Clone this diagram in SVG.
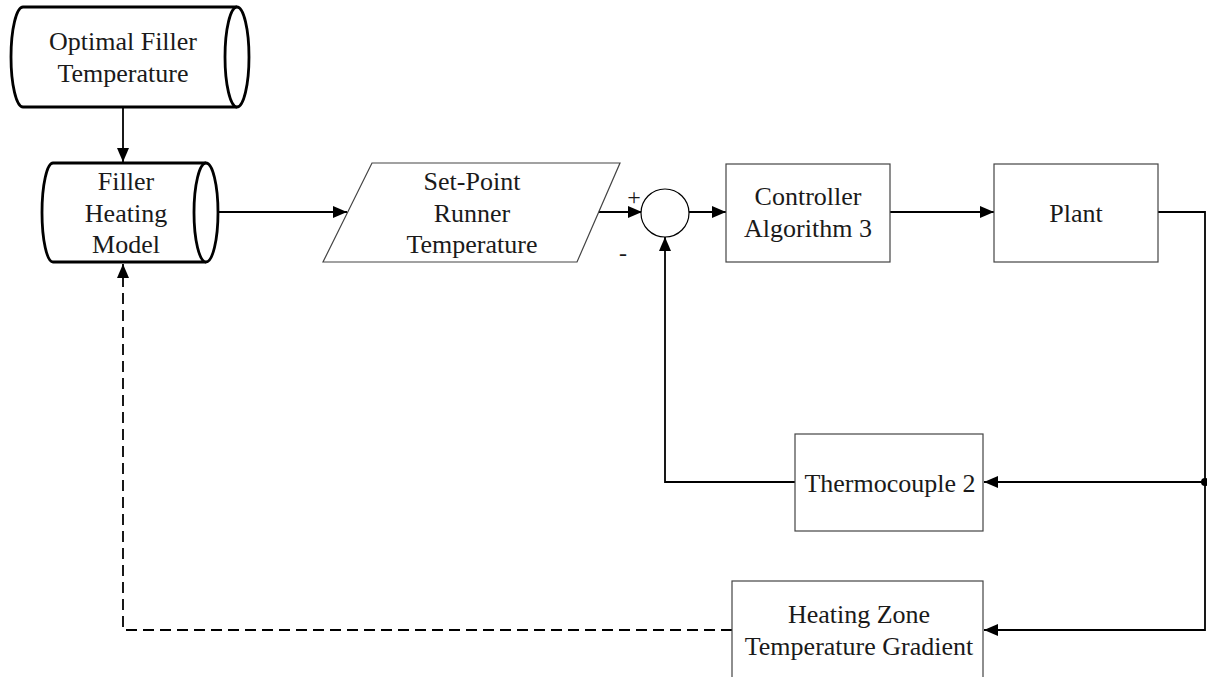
<svg xmlns="http://www.w3.org/2000/svg" width="1207" height="677" viewBox="0 0 1207 677">
<style>
text{font-family:"Liberation Serif","Times New Roman",serif;font-size:26px;fill:#1a1a1a;text-anchor:middle}
.cyl{fill:#fff;stroke:#000;stroke-width:2.8}
.box{fill:#fff;stroke:#444;stroke-width:1.2}
.sumc{fill:#fff;stroke:#000;stroke-width:1.2}
.con{fill:none;stroke:#000;stroke-width:1.8}
.dash{stroke-dasharray:11,6}
.sign{font-size:24px}
</style>
<defs>
<marker id="arr" markerUnits="userSpaceOnUse" markerWidth="15" markerHeight="12" refX="14" refY="6" orient="auto">
<path d="M0,0 L14,6 L0,12 Z" fill="#000"/>
</marker>
</defs>
<g id="connectors">
<path class="con" d="M123,107 V162" marker-end="url(#arr)"/>
<path class="con" d="M206,212 H347" marker-end="url(#arr)"/>
<path class="con" d="M598,212 H642" marker-end="url(#arr)"/>
<path class="con" d="M689,212 H726" marker-end="url(#arr)"/>
<path class="con" d="M890,212 H994" marker-end="url(#arr)"/>
<path class="con" d="M1158,212 H1205 V630 H984" marker-end="url(#arr)"/>
<path class="con" d="M1205,482 H984" marker-end="url(#arr)"/>
<circle cx="1205" cy="482" r="4" fill="#000"/>
<path class="con" d="M795,482 H665 V237" marker-end="url(#arr)"/>
<path class="con dash" d="M732,630 H123 V264" marker-end="url(#arr)"/>
</g>
<g id="optimal">
<path class="cyl" d="M23,7 H237 A12,50 0 0 1 237,107 H23 A12,50 0 0 1 23,7 Z"/>
<path class="cyl" d="M237,7 A12,50 0 0 0 237,107" fill="none"/>
<text x="123" y="50">Optimal Filler</text>
<text x="123" y="82">Temperature</text>
</g>
<g id="filler">
<path class="cyl" d="M53,163 H206 A12,49.5 0 0 1 206,262 H53 A11,49.5 0 0 1 53,163 Z"/>
<path class="cyl" d="M206,163 A12,49.5 0 0 0 206,262" fill="none"/>
<text x="126" y="190">Filler</text>
<text x="126" y="222">Heating</text>
<text x="126" y="253">Model</text>
</g>
<g id="setpoint">
<path class="box" d="M372,163 H620 L577,262 H323 Z"/>
<text x="472" y="190">Set-Point</text>
<text x="472" y="222">Runner</text>
<text x="472" y="253">Temperature</text>
</g>
<g id="sum">
<circle class="sumc" cx="665" cy="213" r="24"/>
<text class="sign" x="634" y="205">+</text>
<text class="sign" x="623" y="261">-</text>
</g>
<g id="controller">
<rect class="box" x="726" y="164" width="164" height="98"/>
<text x="808" y="205">Controller</text>
<text x="808" y="237">Algorithm 3</text>
</g>
<g id="plant">
<rect class="box" x="994" y="164" width="164" height="98"/>
<text x="1076" y="222">Plant</text>
</g>
<g id="thermocouple">
<rect class="box" x="795" y="434" width="188" height="97"/>
<text x="890" y="492">Thermocouple 2</text>
</g>
<g id="heatingzone">
<rect class="box" x="732" y="581" width="251" height="110"/>
<text x="859" y="623">Heating Zone</text>
<text x="859" y="655">Temperature Gradient</text>
</g>
</svg>
